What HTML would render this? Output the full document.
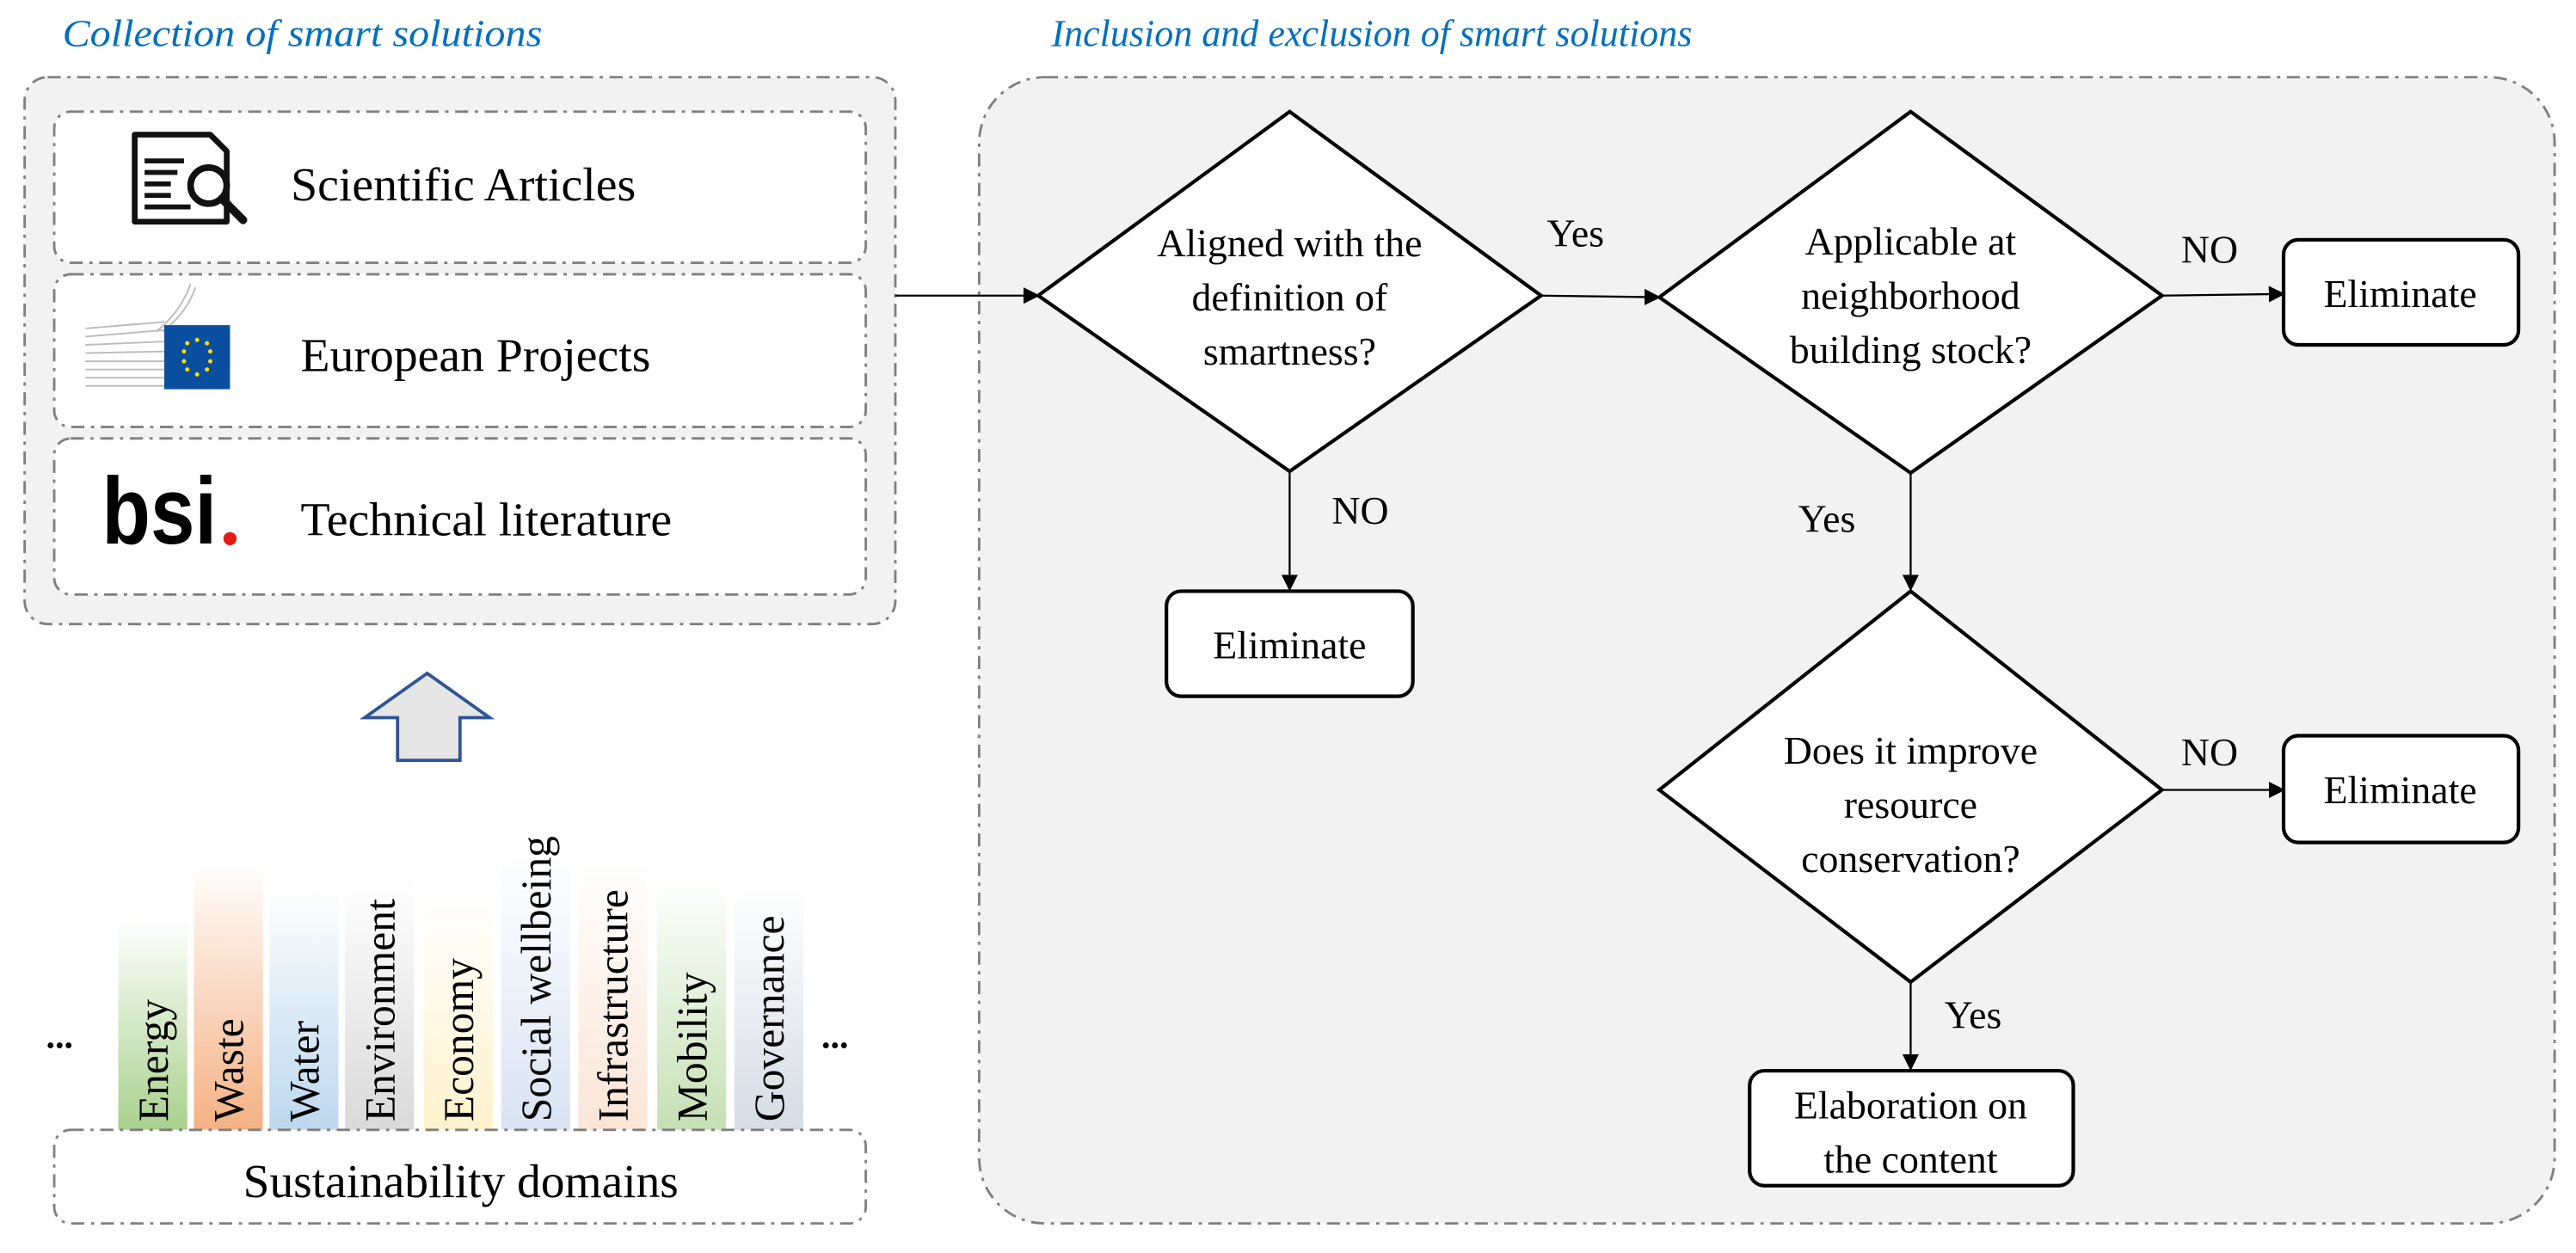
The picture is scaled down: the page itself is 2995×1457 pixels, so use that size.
<!DOCTYPE html>
<html><head><meta charset="utf-8"><style>
html,body{margin:0;padding:0;background:#fff;width:2995px;height:1457px;overflow:hidden}
svg{display:block}
text{font-family:"Liberation Serif",serif;fill:#000}
</style></head><body>
<svg width="2995" height="1457" viewBox="0 0 1568 763" preserveAspectRatio="none" xmlns="http://www.w3.org/2000/svg">
<defs>
<marker id="ah" markerWidth="10" markerHeight="10" refX="9" refY="5" orient="auto" markerUnits="userSpaceOnUse"><path d="M0,0 L10,5 L0,10 z" fill="#000"/></marker>
<linearGradient id="g1" x1="0" y1="1" x2="0" y2="0"><stop offset="0" stop-color="#a9d18e"/><stop offset="1" stop-color="#a9d18e" stop-opacity="0"/></linearGradient>
<linearGradient id="g2" x1="0" y1="1" x2="0" y2="0"><stop offset="0" stop-color="#f4b183"/><stop offset="1" stop-color="#f4b183" stop-opacity="0"/></linearGradient>
<linearGradient id="g3" x1="0" y1="1" x2="0" y2="0"><stop offset="0" stop-color="#bdd7ee"/><stop offset="1" stop-color="#bdd7ee" stop-opacity="0"/></linearGradient>
<linearGradient id="g4" x1="0" y1="1" x2="0" y2="0"><stop offset="0" stop-color="#d9d9d9"/><stop offset="1" stop-color="#d9d9d9" stop-opacity="0"/></linearGradient>
<linearGradient id="g5" x1="0" y1="1" x2="0" y2="0"><stop offset="0" stop-color="#fff2cc"/><stop offset="1" stop-color="#fff2cc" stop-opacity="0"/></linearGradient>
<linearGradient id="g6" x1="0" y1="1" x2="0" y2="0"><stop offset="0" stop-color="#dae3f3"/><stop offset="1" stop-color="#dae3f3" stop-opacity="0"/></linearGradient>
<linearGradient id="g7" x1="0" y1="1" x2="0" y2="0"><stop offset="0" stop-color="#fbe5d6"/><stop offset="1" stop-color="#fbe5d6" stop-opacity="0"/></linearGradient>
<linearGradient id="g8" x1="0" y1="1" x2="0" y2="0"><stop offset="0" stop-color="#c5e0b4"/><stop offset="1" stop-color="#c5e0b4" stop-opacity="0"/></linearGradient>
<linearGradient id="g9" x1="0" y1="1" x2="0" y2="0"><stop offset="0" stop-color="#d6dce5"/><stop offset="1" stop-color="#d6dce5" stop-opacity="0"/></linearGradient>
</defs>

<text x="38" y="28" font-style="italic" font-size="23" textLength="292" lengthAdjust="spacingAndGlyphs" style="fill:#0070c0">Collection of smart solutions</text>
<text x="640" y="28" font-style="italic" font-size="23" textLength="390" lengthAdjust="spacingAndGlyphs" style="fill:#0070c0">Inclusion and exclusion of smart solutions</text>

<rect x="15" y="47" width="530" height="333" rx="14" fill="#f2f2f2" stroke="#808080" stroke-width="1.5" stroke-dasharray="8,4,2,4"/>
<rect x="33" y="68" width="494" height="92" rx="10" fill="#fff" stroke="#808080" stroke-width="1.5" stroke-dasharray="8,4,2,4"/>
<rect x="33" y="167" width="494" height="93" rx="10" fill="#fff" stroke="#808080" stroke-width="1.5" stroke-dasharray="8,4,2,4"/>
<rect x="33" y="267" width="494" height="95" rx="10" fill="#fff" stroke="#808080" stroke-width="1.5" stroke-dasharray="8,4,2,4"/>

<path d="M82,82 L128,82 L138,92 L138,135 L82,135 Z" fill="#fff" stroke="#111" stroke-width="3.5" stroke-linejoin="round"/>
<g stroke="#111" stroke-width="3"><line x1="88" y1="98" x2="112" y2="98"/><line x1="88" y1="105" x2="108" y2="105"/><line x1="88" y1="112" x2="104" y2="112"/><line x1="88" y1="119" x2="104" y2="119"/><line x1="88" y1="126" x2="116" y2="126"/></g>
<circle cx="127" cy="113" r="11" fill="#fff" stroke="#111" stroke-width="4"/>
<line x1="135" y1="121" x2="148" y2="134" stroke="#111" stroke-width="5" stroke-linecap="round"/>
<text x="177" y="122" font-size="29" textLength="210" lengthAdjust="spacingAndGlyphs">Scientific Articles</text>

<g stroke="#bbb" stroke-width="1"><line x1="52" y1="200" x2="100" y2="196"/><line x1="52" y1="205" x2="100" y2="201"/><line x1="52" y1="210" x2="100" y2="208"/><line x1="52" y1="215" x2="100" y2="214"/><line x1="52" y1="220" x2="100" y2="220"/><line x1="52" y1="225" x2="100" y2="225"/><line x1="52" y1="230" x2="100" y2="230"/><line x1="52" y1="235" x2="100" y2="235"/><path d="M95,202 Q110,190 116,173" fill="none"/><path d="M99,202 Q114,190 119,175" fill="none"/></g>
<rect x="100" y="198" width="40" height="39" fill="#0a4ea0"/>
<g fill="#ffdd00"><circle cx="120" cy="207" r="1.3"/><circle cx="126" cy="209" r="1.3"/><circle cx="128" cy="214" r="1.3"/><circle cx="128" cy="220" r="1.3"/><circle cx="126" cy="225" r="1.3"/><circle cx="120" cy="228" r="1.3"/><circle cx="114" cy="225" r="1.3"/><circle cx="112" cy="220" r="1.3"/><circle cx="112" cy="214" r="1.3"/><circle cx="114" cy="209" r="1.3"/></g>
<text x="183" y="226" font-size="29" textLength="213" lengthAdjust="spacingAndGlyphs">European Projects</text>

<text x="62" y="331" font-size="58" font-weight="bold" textLength="70" lengthAdjust="spacingAndGlyphs" style="font-family:'Liberation Sans',sans-serif">bsi</text>
<circle cx="140" cy="328" r="4" fill="#e41b17"/>
<text x="183" y="326" font-size="29" textLength="226" lengthAdjust="spacingAndGlyphs">Technical literature</text>

<path d="M260,410 L298,437 L280,437 L280,463 L242,463 L242,437 L222,437 Z" fill="#e6e6e6" stroke="#2f5597" stroke-width="2"/>

<rect x="72" y="560" width="42" height="128" fill="url(#g1)"/>
<rect x="118" y="525" width="42" height="163" fill="url(#g2)"/>
<rect x="164" y="540" width="42" height="148" fill="url(#g3)"/>
<rect x="210" y="535" width="42" height="153" fill="url(#g4)"/>
<rect x="258" y="545" width="42" height="143" fill="url(#g5)"/>
<rect x="305" y="520" width="42" height="168" fill="url(#g6)"/>
<rect x="352" y="525" width="42" height="163" fill="url(#g7)"/>
<rect x="400" y="535" width="42" height="153" fill="url(#g8)"/>
<rect x="447" y="540" width="42" height="148" fill="url(#g9)"/>
<g font-size="26">
<text transform="translate(102,683) rotate(-90)">Energy</text>
<text transform="translate(148,683) rotate(-90)">Waste</text>
<text transform="translate(194,683) rotate(-90)">Water</text>
<text transform="translate(240,683) rotate(-90)">Environment</text>
<text transform="translate(288,683) rotate(-90)">Economy</text>
<text transform="translate(335,683) rotate(-90)">Social wellbeing</text>
<text transform="translate(382,683) rotate(-90)">Infrastructure</text>
<text transform="translate(430,683) rotate(-90)">Mobility</text>
<text transform="translate(477,683) rotate(-90)">Governance</text>
</g>
<text x="28" y="638" font-size="22" font-weight="bold">...</text>
<text x="500" y="638" font-size="22" font-weight="bold">...</text>
<rect x="33" y="688" width="494" height="57" rx="10" fill="#fff" stroke="#808080" stroke-width="1.5" stroke-dasharray="8,4,2,4"/>
<text x="148" y="729" font-size="29" textLength="265" lengthAdjust="spacingAndGlyphs">Sustainability domains</text>

<rect x="596" y="47" width="959" height="698" rx="40" fill="#f2f2f2" stroke="#808080" stroke-width="1.5" stroke-dasharray="8,4,2,4"/>

<g stroke="#000" stroke-width="1.2" fill="none">
<line x1="545" y1="180" x2="632" y2="180" marker-end="url(#ah)"/>
<line x1="938" y1="180" x2="1010" y2="181" marker-end="url(#ah)"/>
<line x1="1316" y1="180" x2="1390" y2="179" marker-end="url(#ah)"/>
<line x1="785" y1="287" x2="785" y2="359" marker-end="url(#ah)"/>
<line x1="1163" y1="288" x2="1163" y2="359" marker-end="url(#ah)"/>
<line x1="1316" y1="481" x2="1390" y2="481" marker-end="url(#ah)"/>
<line x1="1163" y1="598" x2="1163" y2="651" marker-end="url(#ah)"/>
</g>

<g fill="#fff" stroke="#000" stroke-width="2.2">
<polygon points="632,180 785,68 938,180 785,287"/>
<polygon points="1010,181 1163,68 1316,180 1163,288"/>
<polygon points="1010,481 1163,360 1316,481 1163,598"/>
<rect x="1390" y="146" width="143" height="64" rx="9"/>
<rect x="710" y="360" width="150" height="64" rx="9"/>
<rect x="1390" y="448" width="143" height="65" rx="9"/>
<rect x="1065" y="652" width="197" height="70" rx="9"/>
</g>

<g font-size="24" text-anchor="middle">
<text x="785" y="156">Aligned with the</text>
<text x="785" y="189">definition of</text>
<text x="785" y="222">smartness?</text>
<text x="1163" y="155">Applicable at</text>
<text x="1163" y="188">neighborhood</text>
<text x="1163" y="221">building stock?</text>
<text x="1163" y="465">Does it improve</text>
<text x="1163" y="498">resource</text>
<text x="1163" y="531">conservation?</text>
<text x="1461" y="187">Eliminate</text>
<text x="785" y="401">Eliminate</text>
<text x="1461" y="489">Eliminate</text>
<text x="1163" y="681">Elaboration on</text>
<text x="1163" y="714">the content</text>
<text x="959" y="150">Yes</text>
<text x="1345" y="160">NO</text>
<text x="828" y="319">NO</text>
<text x="1112" y="324">Yes</text>
<text x="1345" y="466">NO</text>
<text x="1201" y="626">Yes</text>
</g>
</svg>
</body></html>
